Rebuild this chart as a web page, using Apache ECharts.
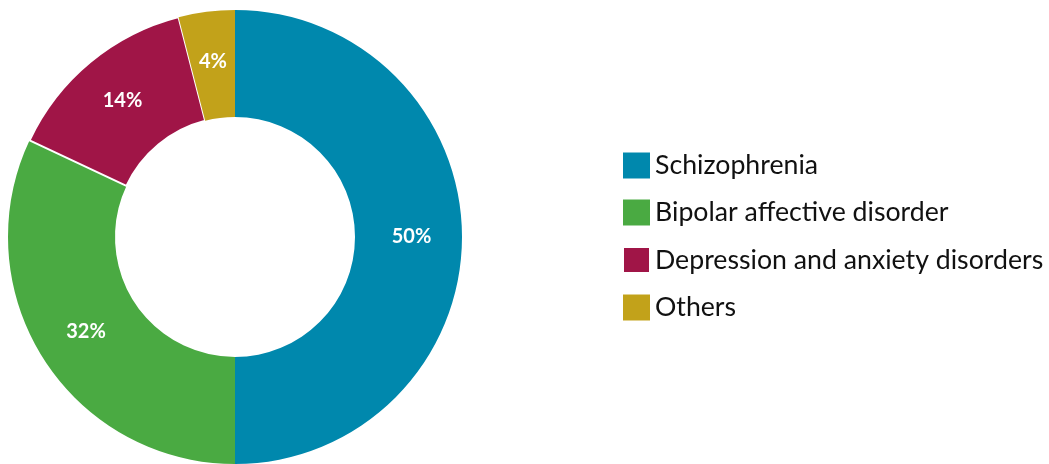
<!DOCTYPE html>
<html>
<head>
<meta charset="utf-8">
<script src="https://cdn.jsdelivr.net/npm/echarts@6/dist/echarts.min.js"></script>
<style>
  html, body { margin: 0; padding: 0; background: #fff; }
  #main { width: 1049px; height: 464px; }
</style>
</head>
<body>
<div id="main"></div>
<script>
  // categories and shares (%)
  var categories = ['Schizophrenia', 'Bipolar affective disorder', 'Depression and anxiety disorders', 'Others'];
  var shares = [50, 32, 14, 4];
  var colors = ['#0088ad', '#4aaa42', '#a01547', '#c2a21a'];

  var chart = echarts.init(document.getElementById('main'));

  var data = categories.map(function (name, i) {
    var item = { name: name, value: shares[i], itemStyle: { color: colors[i] } };
    // only the purple slice has the white gap on both sides
    if (i === 2) {
      item.itemStyle.borderColor = '#fff';
      item.itemStyle.borderWidth = 2;
    }
    return item;
  });

  var option = {
    animation: false,
    legend: {
      orient: 'vertical',
      left: 617,
      top: 147,
      itemWidth: 27,
      itemHeight: 26,
      itemGap: 20,
      icon: 'rect',
      textStyle: { fontSize: 26.7, color: '#111', fontFamily: 'Lato, sans-serif' },
      data: categories
    },
    series: [{
      type: 'pie',
      center: [235, 237],
      radius: [120, 227],
      startAngle: 90,
      clockwise: true,
      silent: true,
      label: {
        show: true,
        position: 'inside',
        color: '#fff',
        fontSize: 20,
        fontWeight: 'bold',
        fontFamily: 'Lato, sans-serif',
        formatter: '{c}%'
      },
      labelLine: { show: false },
      data: data
    }]
  };

  chart.setOption(option);
</script>
</body>
</html>
